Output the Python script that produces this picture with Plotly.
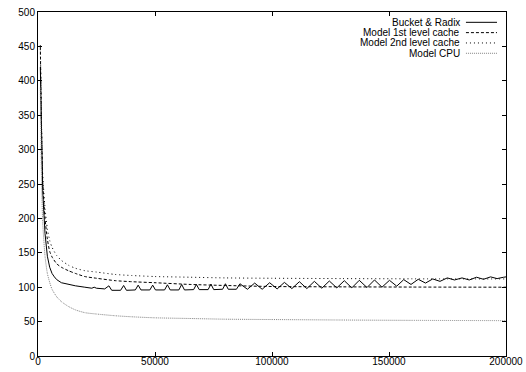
import plotly.graph_objects as go

# ---- data ----
bucket_x = [1000, 2000, 3000, 4000, 5000, 6000, 7000, 8000, 10000, 13000, 16000, 20000, 23000, 24000, 25000, 28500,
            30300, 31500, 35300, 36600, 37800, 41600, 42800, 44000, 47800, 49000, 50200, 54100, 55300, 56500, 60200,
            61400, 62600, 66500, 67700, 68900, 72700, 73900, 75100, 78900, 80100, 81300, 84800,
            86300, 89500, 92600, 95800, 99000, 102200, 105300, 108500, 111700, 114900, 118100, 121300, 124500,
            127700, 130900, 134100, 137300, 140600, 143800, 147000, 150200, 153300, 156300, 159400, 162500,
            165600, 168700, 171800, 174900, 178000, 181200, 184300, 187400, 190400, 193400, 196200, 199000, 200000]
bucket_y = [420, 240, 178, 145, 129, 120, 115, 111, 106.5, 104, 102, 100, 98.5, 100, 98.5, 97.5,
            102, 95.5, 95.5, 102.5, 95.5, 96, 103, 96, 96, 103, 96, 96, 103.5, 96, 96,
            104, 96, 96.5, 104, 96.5, 96.5, 104.5, 96.5, 97, 105, 97, 97,
            105, 97, 106, 97, 106.5, 97.5, 107, 98, 108, 98, 108.5, 98.5, 109,
            99, 109.5, 99, 110, 99.5, 110.5, 100, 110, 101.5, 111, 104, 111.5,
            106, 112, 108.5, 113.5, 110.5, 113.5, 110.5, 114.5, 111.5, 115, 112.5, 114.5, 115]

model_x = [1000, 1500, 2000, 3000, 4000, 5000, 6000, 8000, 10000, 13000, 16000, 20000, 25000, 33000,
           40000, 50000, 65000, 80000, 100000, 130000, 160000, 200000]
l1_y = [450, 330, 255, 200, 170, 152, 144, 134, 129, 124, 120, 115.5, 113, 109.5,
        108, 106.5, 104, 102.5, 101, 100.5, 100.2, 100]
l2_y = [452, 340, 265, 215, 185, 168, 158, 146, 139, 132, 127.5, 124, 122, 118.5,
        117, 115.5, 114.5, 113.5, 113, 112.5, 112.2, 112]
cpu_y = [390, 260, 195, 145, 120, 107, 97, 86, 79, 72, 67, 63, 61, 58.5,
         57, 55.5, 54.5, 53.5, 53, 52.3, 51.8, 51.4]

names = ["Bucket & Radix", "Model 1st level cache", "Model 2nd level cache", "Model CPU"]
x_ticks = [0, 50000, 100000, 150000, 200000]
y_ticks = [0, 50, 100, 150, 200, 250, 300, 350, 400, 450, 500]

styles = [
    dict(color="black", width=1, dash="solid"),
    dict(color="black", width=1, dash="3px,2px"),
    dict(color="black", width=1, dash="1px,3px"),
    dict(color="#808080", width=1, dash="1px,1px"),
]

fig = go.Figure()
fig.add_trace(go.Scatter(x=bucket_x, y=bucket_y, mode="lines", name=names[0], line=styles[0]))
fig.add_trace(go.Scatter(x=model_x, y=l1_y, mode="lines", name=names[1],
                         line=dict(**styles[1], shape="spline", smoothing=0.6)))
fig.add_trace(go.Scatter(x=model_x, y=l2_y, mode="lines", name=names[2],
                         line=dict(**styles[2], shape="spline", smoothing=0.6)))
fig.add_trace(go.Scatter(x=model_x, y=cpu_y, mode="lines", name=names[3],
                         line=dict(**styles[3], shape="spline", smoothing=0.6)))

font = dict(family="Liberation Sans, Arial, sans-serif", size=10, color="black")

# gnuplot-style legend: right-aligned text, sample line to the right
rows_y = [0.970, 0.940, 0.910, 0.880]
for name, st, yy in zip(names, styles, rows_y):
    fig.add_annotation(x=0.904, y=yy, xref="paper", yref="paper", text=name, showarrow=False,
                       xanchor="right", yanchor="middle", font=font, borderpad=0)
    fig.add_shape(type="line", xref="paper", yref="paper", x0=0.9144, x1=0.9808, y0=yy, y1=yy,
                  line=dict(color=st["color"], width=1, dash=st["dash"]))

axis_common = dict(showgrid=False, zeroline=False, showline=True, linecolor="black", linewidth=1,
                   mirror="ticks", ticks="inside", ticklen=4, tickcolor="black", tickwidth=1,
                   tickfont=font, automargin=False)

fig.update_layout(
    width=526, height=372,
    margin=dict(l=38, r=20, t=12, b=16),
    paper_bgcolor="white", plot_bgcolor="white",
    showlegend=False,
    font=font,
    xaxis=dict(range=[0, 200000], tickvals=x_ticks, ticktext=[str(v) for v in x_ticks],
               ticklabelstandoff=-4, **axis_common),
    yaxis=dict(range=[0, 500], tickvals=y_ticks, ticktext=[str(v) for v in y_ticks], **axis_common),
)

fig.write_html("out.html")
